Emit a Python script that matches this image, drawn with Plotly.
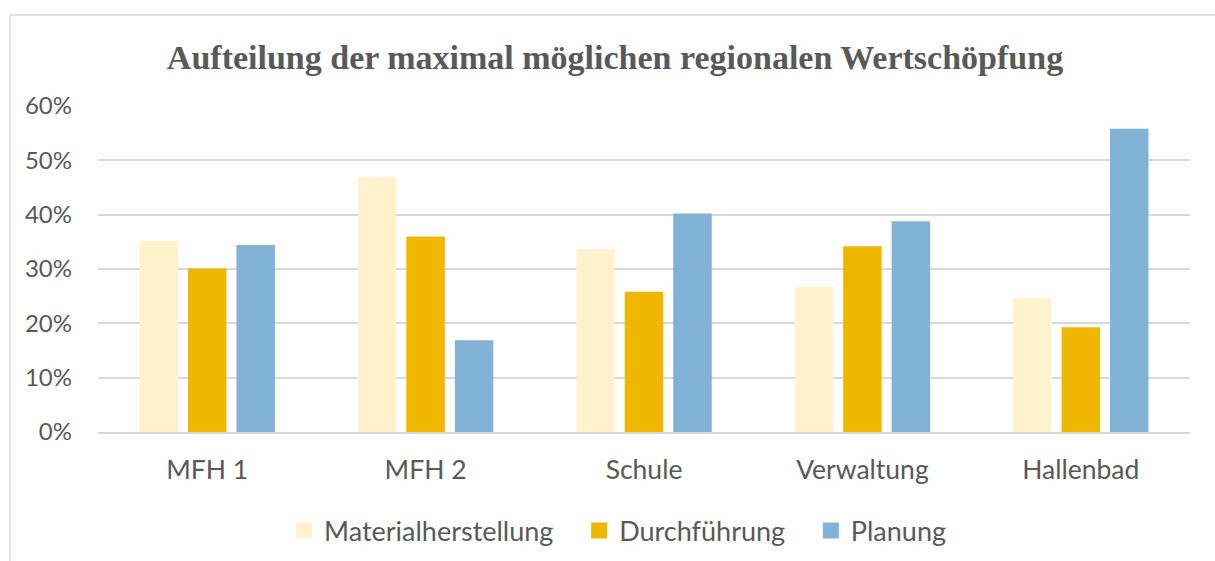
import plotly.graph_objects as go

gebaeude = ["MFH 1", "MFH 2", "Schule", "Verwaltung", "Hallenbad"]
materialherstellung = [0.352, 0.469, 0.337, 0.267, 0.247]
durchfuehrung = [0.301, 0.360, 0.258, 0.342, 0.193]
planung = [0.344, 0.169, 0.402, 0.388, 0.558]

serien = [
    ("Materialherstellung", materialherstellung, "#FFF2CC"),
    ("Durchführung", durchfuehrung, "#F0B700"),
    ("Planung", planung, "#82B2D5"),
]

PAD = "\u00a0" * 3  # abstand zwischen legendeneintraegen

fig = go.Figure()
for name, werte, farbe in serien:
    fig.add_trace(go.Bar(
        x=gebaeude,
        y=werte,
        name=name,
        showlegend=False,
        marker=dict(color=farbe, line=dict(width=0)),
        hovertemplate="%{y:.0%}<extra></extra>"
    ))
# eigene legendensymbole (quadrate wie in excel)
for i, (name, werte, farbe) in enumerate(serien):
    fig.add_trace(go.Scatter(
        x=[None], y=[None], mode="markers",
        name=name + (PAD if i < len(serien) - 1 else ""),
        marker=dict(symbol="square", size=16, color=farbe),
        hoverinfo="skip"
    ))

# rahmen des diagrammbereichs (rechts/unten ausserhalb des bildes)
fig.add_shape(type="rect", xref="paper", yref="paper",
              x0=-0.0806, x1=1.2, y0=-0.45, y1=1.279,
              line=dict(color="#D9D9D9", width=1.5), layer="below")

fig.update_layout(
    width=1215, height=561,
    margin=dict(l=98, r=25, t=106, b=129),
    paper_bgcolor="white", plot_bgcolor="white",
    font=dict(family="Lato", size=27, color="#595959"),
    title=dict(text="<b>Aufteilung der maximal möglichen regionalen Wertschöpfung</b>",
               font=dict(family="Liberation Serif", size=34, color="#595959"),
               x=615/1215, xanchor="center", xref="container",
               y=1 - 57/561, yanchor="middle", yref="container"),
    barmode="group", bargap=0.334, bargroupgap=0.206,
    legend=dict(orientation="h", x=(618 - 98) / 1092, xanchor="center",
                y=1 - 531/561, yanchor="middle", yref="container",
                font=dict(size=27), itemclick=False, traceorder="normal"),
    showlegend=True,
)
fig.update_yaxes(range=[0, 0.6], dtick=0.1, tickformat=".0%",
                 showgrid=True, gridcolor="#D9D9D9", gridwidth=1.5,
                 zeroline=False, showline=False, ticklabelstandoff=25,
                 tickfont=dict(size=24), automargin=False)
fig.update_xaxes(showline=True, linecolor="#D9D9D9", linewidth=1.5,
                 ticks="", ticklabelstandoff=13, tickfont=dict(size=26.5),
                 tickangle=0, automargin=False)

fig.write_html("out.html", config={"displayModeBar": False},
               post_script="document.body.style.margin='0';document.body.style.overflow='hidden';")
